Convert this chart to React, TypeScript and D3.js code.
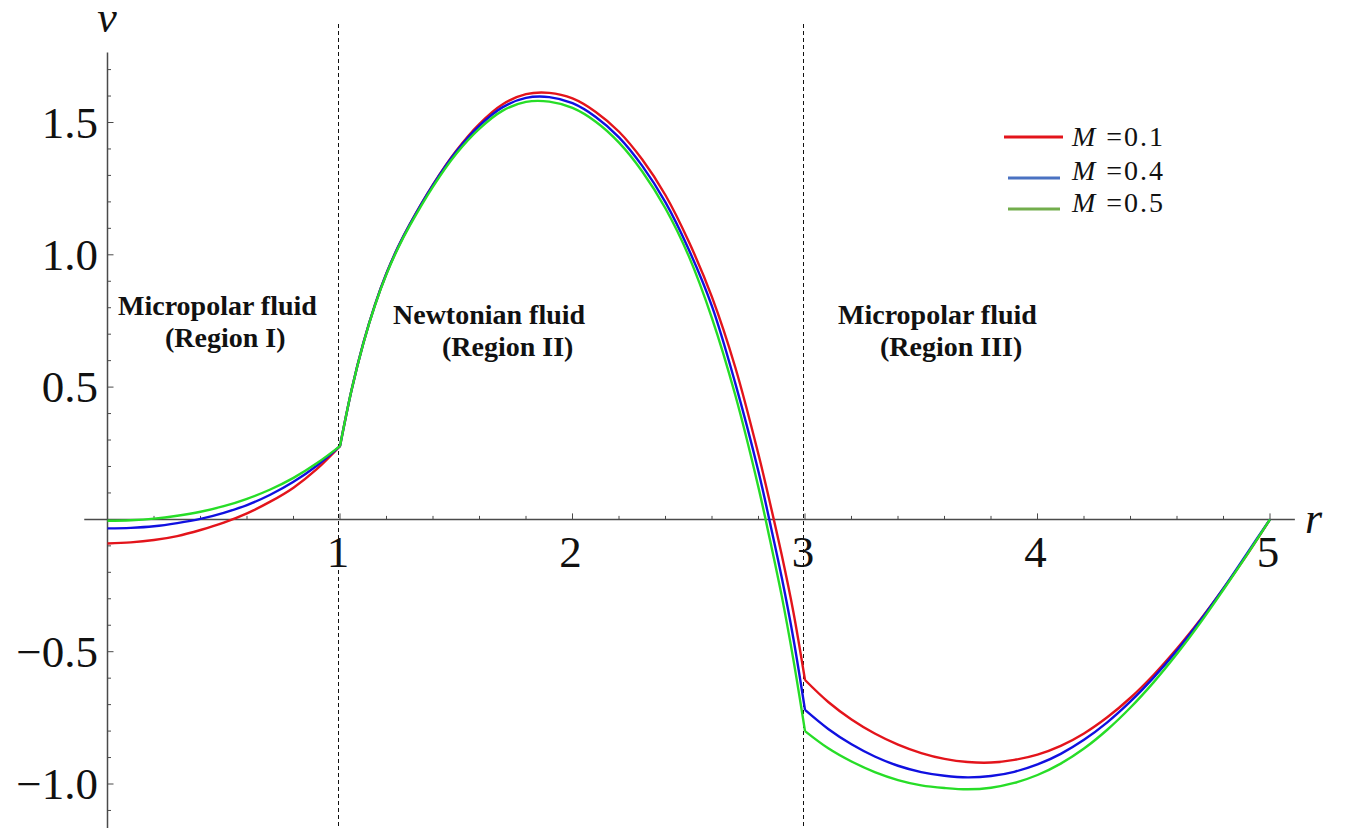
import React, { useEffect, useRef } from "react";
import * as d3 from "d3";

const width = 1354;
const height = 830;

// r grids for the three regions
const rRegion1 = [0, 0.1, 0.2, 0.3, 0.4, 0.5, 0.6, 0.7, 0.8, 0.9, 1];
const rRegion2 = [1, 1.05, 1.1, 1.15, 1.2, 1.25, 1.3, 1.4, 1.5, 1.6, 1.7, 1.8, 1.9, 2, 2.1, 2.2, 2.3, 2.4, 2.5, 2.6, 2.7, 2.8, 2.85, 2.9, 2.95, 3];
const rRegion3 = [3, 3.1, 3.2, 3.3, 3.4, 3.5, 3.6, 3.7, 3.8, 3.9, 4, 4.1, 4.2, 4.3, 4.4, 4.5, 4.6, 4.7, 4.8, 4.9, 5];

// M = 0.1
const vM01Region1 = [-0.091, -0.087, -0.078, -0.063, -0.04, -0.012, 0.023, 0.067, 0.12, 0.19, 0.277];
const vM01Region2 = [0.277, 0.49, 0.665, 0.81, 0.93, 1.03, 1.115, 1.265, 1.393, 1.495, 1.569, 1.607, 1.612, 1.591, 1.54, 1.465, 1.36, 1.225, 1.05, 0.84, 0.575, 0.245, 0.06, -0.135, -0.35, -0.607];
const vM01Region3 = [-0.607, -0.69, -0.756, -0.809, -0.851, -0.883, -0.905, -0.917, -0.919, -0.909, -0.889, -0.856, -0.809, -0.748, -0.674, -0.587, -0.488, -0.379, -0.261, -0.135, 0];

// M = 0.4
const vM04Region1 = [-0.034, -0.032, -0.026, -0.014, 0.002, 0.025, 0.054, 0.093, 0.142, 0.203, 0.277];
const vM04Region2 = [0.277, 0.49, 0.665, 0.81, 0.93, 1.03, 1.115, 1.264, 1.39, 1.488, 1.558, 1.593, 1.596, 1.573, 1.521, 1.444, 1.336, 1.198, 1.02, 0.805, 0.515, 0.18, -0.015, -0.22, -0.45, -0.72];
const vM04Region3 = [-0.72, -0.792, -0.85, -0.896, -0.931, -0.955, -0.969, -0.975, -0.97, -0.954, -0.926, -0.886, -0.833, -0.767, -0.688, -0.597, -0.495, -0.382, -0.26, -0.13, 0];

// M = 0.5
const vM05Region1 = [-0.005, -0.003, 0.003, 0.014, 0.029, 0.05, 0.078, 0.113, 0.157, 0.212, 0.277];
const vM05Region2 = [0.277, 0.49, 0.664, 0.808, 0.927, 1.026, 1.11, 1.258, 1.382, 1.477, 1.545, 1.578, 1.579, 1.555, 1.503, 1.424, 1.315, 1.175, 0.995, 0.76, 0.47, 0.12, -0.08, -0.29, -0.53, -0.8];
const vM05Region3 = [-0.8, -0.865, -0.915, -0.955, -0.985, -1.005, -1.015, -1.02, -1.014, -0.996, -0.966, -0.923, -0.866, -0.795, -0.711, -0.615, -0.508, -0.391, -0.265, -0.135, 0];

const legendLabels = ["0.1", "0.4", "0.5"];
const lineColors = ["#e3141b", "#1010e0", "#27dd27"];
const legendColors = ["#e3141b", "#4a72c2", "#72ad4c"];

const xTickValues = [1, 2, 3, 4, 5];
const xTickLabels = ["1", "2", "3", "4", "5"];
const yTickValues = [1.5, 1, 0.5, -0.5, -1];
const yTickLabels = ["1.5", "1.0", "0.5", "\u22120.5", "\u22121.0"];
const boundaries = [1, 3];

const regionTitles = ["Micropolar fluid", "Newtonian fluid", "Micropolar fluid"];
const regionSubtitles = ["(Region I)", "(Region II)", "(Region III)"];

export default function App() {
  const ref = useRef<SVGSVGElement>(null);

  useEffect(() => {
    const svg = d3.select(ref.current);
    svg.selectAll("*").remove();

    const x = d3.scaleLinear().domain([0, 5]).range([107.5, 1270]);
    const y = d3.scaleLinear().domain([-1, 1.5]).range([784, 122.5]);
    const axisColor = "#4a4a4a";
    const serif = "'Liberation Serif', 'Times New Roman', serif";

    // dashed region boundaries
    svg
      .selectAll("line.bound")
      .data(boundaries)
      .enter()
      .append("line")
      .attr("x1", d => x(d) - 1.5)
      .attr("x2", d => x(d) - 1.5)
      .attr("y1", 24)
      .attr("y2", 828)
      .attr("stroke", "#111")
      .attr("stroke-width", 1)
      .attr("stroke-dasharray", "4,3");

    // axes
    const g = svg.append("g");
    g.append("line")
      .attr("x1", x(-0.1))
      .attr("x2", x(5.107))
      .attr("y1", y(0))
      .attr("y2", y(0))
      .attr("stroke", axisColor)
      .attr("stroke-width", 1.5);
    g.append("line")
      .attr("x1", x(0))
      .attr("x2", x(0))
      .attr("y1", y(1.765))
      .attr("y2", 828)
      .attr("stroke", axisColor)
      .attr("stroke-width", 1.5);

    const xMinor = d3.range(1, 26).map(i => i * 0.2);
    g.selectAll("line.xt")
      .data(xMinor)
      .enter()
      .append("line")
      .attr("x1", d => x(d))
      .attr("x2", d => x(d))
      .attr("y1", y(0))
      .attr("y2", d => y(0) - (Math.abs(d - Math.round(d)) < 1e-6 ? 6 : 3.5))
      .attr("stroke", axisColor)
      .attr("stroke-width", 1);

    const yMinor = d3.range(-11, 18).filter(i => i !== 0).map(i => i / 10);
    g.selectAll("line.yt")
      .data(yMinor)
      .enter()
      .append("line")
      .attr("x1", x(0))
      .attr("x2", d => x(0) + (Math.abs(d * 2 - Math.round(d * 2)) < 1e-6 ? 6 : 3.5))
      .attr("y1", d => y(d))
      .attr("y2", d => y(d))
      .attr("stroke", axisColor)
      .attr("stroke-width", 1);

    g.selectAll("text.xl")
      .data(xTickValues)
      .enter()
      .append("text")
      .attr("x", d => x(d) - 2)
      .attr("y", y(0) + 48)
      .attr("text-anchor", "middle")
      .attr("font-family", serif)
      .attr("font-size", 45)
      .attr("fill", "#111")
      .text((d, i) => xTickLabels[i]);

    g.selectAll("text.yl")
      .data(yTickValues)
      .enter()
      .append("text")
      .attr("x", 98)
      .attr("y", d => y(d) + 15)
      .attr("text-anchor", "end")
      .attr("font-family", serif)
      .attr("font-size", 45)
      .attr("fill", "#111")
      .text((d, i) => yTickLabels[i]);

    // axis names
    svg.append("text")
      .attr("x", 107)
      .attr("y", 32)
      .attr("text-anchor", "middle")
      .attr("font-family", serif)
      .attr("font-style", "italic")
      .attr("font-size", 44)
      .attr("fill", "#111")
      .text("v");
    svg.append("text")
      .attr("x", 1305)
      .attr("y", 533)
      .attr("font-family", serif)
      .attr("font-style", "italic")
      .attr("font-size", 44)
      .attr("fill", "#111")
      .text("r");

    // region annotations
    const titlePos = [
      { x: 118, y: 315, sx: 165, sy: 347 },
      { x: 393, y: 324, sx: 442, sy: 356 },
      { x: 838, y: 324, sx: 880, sy: 356 }
    ];
    titlePos.forEach((p, i) => {
      svg.append("text")
        .attr("x", p.x)
        .attr("y", p.y)
        .attr("font-family", serif)
        .attr("font-weight", "bold")
        .attr("font-size", 28)
        .attr("fill", "#111")
        .text(regionTitles[i]);
      svg.append("text")
        .attr("x", p.sx)
        .attr("y", p.sy)
        .attr("font-family", serif)
        .attr("font-weight", "bold")
        .attr("font-size", 28)
        .attr("fill", "#111")
        .text(regionSubtitles[i]);
    });

    // curves
    const series = [
      [vM01Region1, vM01Region2, vM01Region3],
      [vM04Region1, vM04Region2, vM04Region3],
      [vM05Region1, vM05Region2, vM05Region3]
    ];
    const grids = [rRegion1, rRegion2, rRegion3];
    const line = d3
      .line<[number, number]>()
      .x(d => x(d[0]))
      .y(d => y(d[1]))
      .curve(d3.curveCatmullRom.alpha(0.5));

    series.forEach((parts, si) => {
      const d = parts
        .map((vals, pi) => line(grids[pi].map((r, k) => [r, vals[k]] as [number, number])))
        .join("");
      svg.append("path")
        .attr("d", d)
        .attr("fill", "none")
        .attr("stroke", lineColors[si])
        .attr("stroke-width", 2.4)
        .attr("stroke-linejoin", "round");
    });

    // legend
    const legendLineY = [137, 178, 209];
    const legendTextY = [146, 180, 212];
    legendLabels.forEach((lab, i) => {
      svg.append("line")
        .attr("x1", i === 0 ? 1004 : 1008)
        .attr("x2", i === 0 ? 1063 : 1060)
        .attr("y1", legendLineY[i])
        .attr("y2", legendLineY[i])
        .attr("stroke", legendColors[i])
        .attr("stroke-width", 3);
      const t = svg.append("text")
        .attr("x", 1072)
        .attr("y", legendTextY[i])
        .attr("font-family", serif)
        .attr("font-size", 28)
        .attr("fill", "#111")
        .attr("textLength", 91)
        .attr("lengthAdjust", "spacing");
      t.append("tspan").attr("font-style", "italic").text("M");
      t.append("tspan").text(" =" + lab);
    });
  }, []);

  return (
    <div style={{ position: "absolute", left: 0, top: 0 }}>
      <svg ref={ref} width={width} height={height} style={{ display: "block", background: "#fff" }} />
    </div>
  );
}
